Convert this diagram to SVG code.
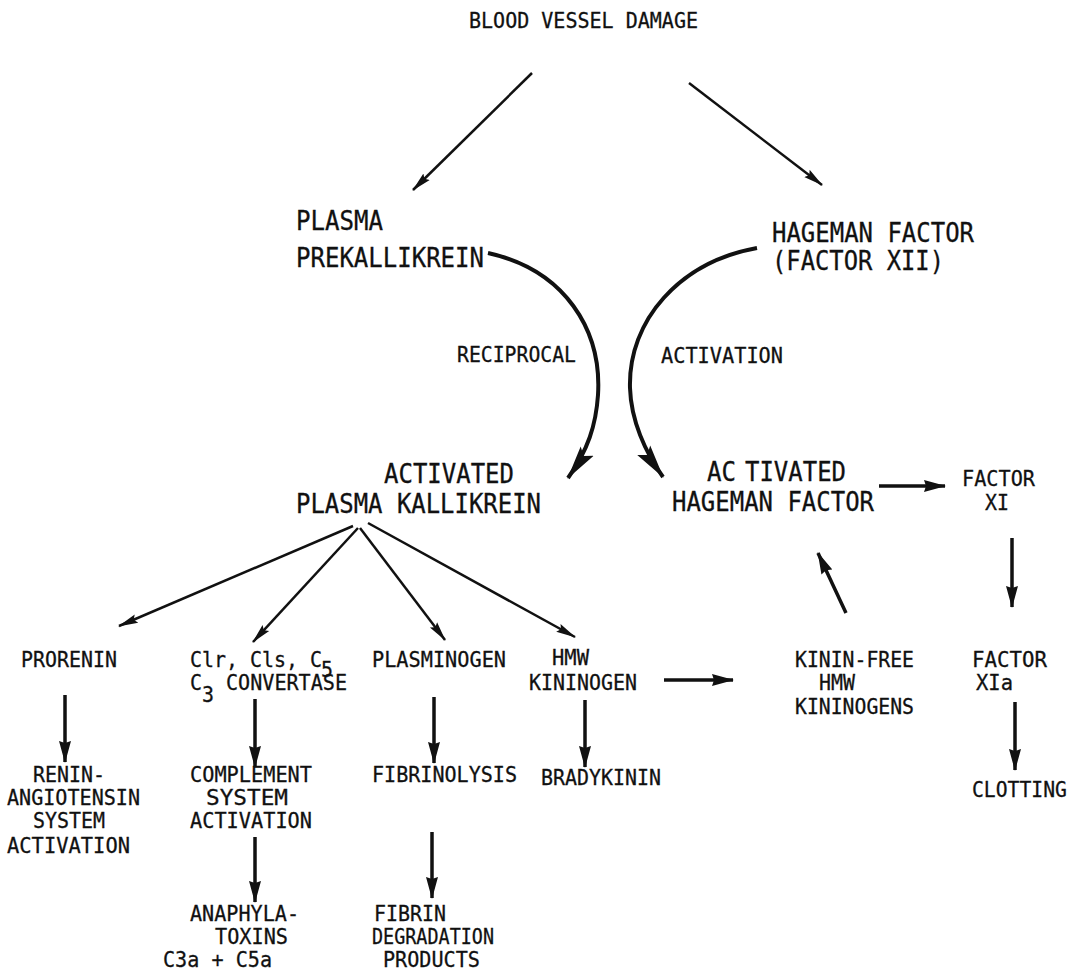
<svg xmlns="http://www.w3.org/2000/svg" width="1074" height="970" viewBox="0 0 1074 970">
<style>
text{font-family:"DejaVu Sans Mono","Liberation Mono",monospace;fill:#111;stroke:#111;stroke-width:0.3}
.s{font-size:22px}
.l{font-size:26px}
.thin{stroke:#111;stroke-width:2.5;fill:none;marker-end:url(#ht)}
.bold{stroke:#111;stroke-width:3.5;fill:none;marker-end:url(#hb)}
.curve{stroke:#111;stroke-width:4;fill:none;marker-end:url(#hc)}
</style>
<defs>
<marker id="ht" markerUnits="userSpaceOnUse" markerWidth="20" markerHeight="12" viewBox="0 0 20 12" refX="19" refY="6" orient="auto"><path d="M0,1.5 L20,6 L0,10.5 L3,6 z" fill="#111"/></marker>
<marker id="hb" markerUnits="userSpaceOnUse" markerWidth="22" markerHeight="14" viewBox="0 0 22 14" refX="21" refY="7" orient="auto"><path d="M0,1 L22,7 L0,13 L2,7 z" fill="#111"/></marker>
<marker id="hc" markerUnits="userSpaceOnUse" markerWidth="34" markerHeight="18" viewBox="0 0 34 18" refX="33" refY="9" orient="auto"><path d="M0,1 L34,9 L0,17 L6,9 z" fill="#111"/></marker>
</defs>
<rect width="1074" height="970" fill="#fff"/>

<g id="connectors">
<line class="thin" x1="532" y1="73" x2="413" y2="190"/>
<line class="thin" x1="689" y1="83" x2="822" y2="185"/>
<path class="curve" d="M488,253 C565,270 602,330 598,395 C596,425 588,450 568,478"/>
<path class="curve" d="M757,248 C680,262 628,320 630,388 C631,420 645,452 663,477"/>
<line class="bold" x1="879" y1="486" x2="945" y2="486"/>
<line class="thin" x1="353" y1="526" x2="119" y2="626"/>
<line class="thin" x1="358" y1="528" x2="253" y2="642"/>
<line class="thin" x1="360" y1="528" x2="445" y2="640"/>
<line class="thin" x1="368" y1="523" x2="575" y2="637"/>
<line class="bold" x1="65" y1="695" x2="65" y2="762"/>
<line class="bold" x1="255" y1="699" x2="255" y2="767"/>
<line class="bold" x1="434" y1="697" x2="434" y2="763"/>
<line class="bold" x1="585" y1="700" x2="585" y2="767"/>
<line class="bold" x1="255" y1="837" x2="255" y2="902"/>
<line class="bold" x1="432" y1="832" x2="432" y2="898"/>
<line class="bold" x1="664" y1="680" x2="733" y2="680"/>
<line class="bold" x1="846" y1="613" x2="818" y2="553"/>
<line class="bold" x1="1012" y1="538" x2="1012" y2="607"/>
<line class="bold" x1="1015" y1="702" x2="1015" y2="770"/>
</g>

<g id="blood-vessel-damage"><text class="s" x="469" y="28" textLength="229" lengthAdjust="spacingAndGlyphs">BLOOD VESSEL DAMAGE</text></g>
<g id="plasma-prekallikrein"><text class="l" x="296" y="230" textLength="87" lengthAdjust="spacingAndGlyphs">PLASMA</text><text class="l" x="296" y="267" textLength="188" lengthAdjust="spacingAndGlyphs">PREKALLIKREIN</text></g>
<g id="hageman-factor"><text class="l" x="772" y="242" textLength="202" lengthAdjust="spacingAndGlyphs">HAGEMAN FACTOR</text><text class="l" x="772" y="270" textLength="172" lengthAdjust="spacingAndGlyphs">(FACTOR XII)</text></g>
<g id="label-reciprocal"><text class="s" x="457" y="362" textLength="119" lengthAdjust="spacingAndGlyphs">RECIPROCAL</text></g>
<g id="label-activation"><text class="s" x="661" y="363" textLength="122" lengthAdjust="spacingAndGlyphs">ACTIVATION</text></g>
<g id="activated-plasma-kallikrein"><text class="l" x="384" y="483" textLength="130" lengthAdjust="spacingAndGlyphs">ACTIVATED</text><text class="l" x="296" y="513" textLength="245" lengthAdjust="spacingAndGlyphs">PLASMA KALLIKREIN</text></g>
<g id="activated-hageman-factor"><text class="l" y="481"><tspan x="707" textLength="29" lengthAdjust="spacingAndGlyphs">AC</tspan><tspan x="745" textLength="101" lengthAdjust="spacingAndGlyphs">TIVATED</tspan></text><text class="l" x="672" y="511" textLength="202" lengthAdjust="spacingAndGlyphs">HAGEMAN FACTOR</text></g>
<g id="factor-xi"><text class="s" x="962" y="486" textLength="73" lengthAdjust="spacingAndGlyphs">FACTOR</text><text class="s" x="985" y="510" textLength="24" lengthAdjust="spacingAndGlyphs">XI</text></g>
<g id="prorenin"><text class="s" x="21" y="667" textLength="96" lengthAdjust="spacingAndGlyphs">PRORENIN</text></g>
<g id="c1r-c1s-c5-c3-convertase"><text class="s" x="190" y="667" textLength="132" lengthAdjust="spacingAndGlyphs">Clr, Cls, C</text><text class="s" x="321" y="677" textLength="12" lengthAdjust="spacingAndGlyphs">5</text><text class="s" x="190" y="690" textLength="12" lengthAdjust="spacingAndGlyphs">C</text><text class="s" x="202" y="702" textLength="12" lengthAdjust="spacingAndGlyphs">3</text><text class="s" x="226" y="690" textLength="121" lengthAdjust="spacingAndGlyphs">CONVERTASE</text></g>
<g id="plasminogen"><text class="s" x="372" y="667" textLength="134" lengthAdjust="spacingAndGlyphs">PLASMINOGEN</text></g>
<g id="hmw-kininogen"><text class="s" x="552" y="665" textLength="37" lengthAdjust="spacingAndGlyphs">HMW</text><text class="s" x="529" y="690" textLength="108" lengthAdjust="spacingAndGlyphs">KININOGEN</text></g>
<g id="kinin-free-hmw-kininogens"><text class="s" x="795" y="667" textLength="119" lengthAdjust="spacingAndGlyphs">KININ-FREE</text><text class="s" x="819" y="690" textLength="36" lengthAdjust="spacingAndGlyphs">HMW</text><text class="s" x="795" y="714" textLength="119" lengthAdjust="spacingAndGlyphs">KININOGENS</text></g>
<g id="factor-xia"><text class="s" x="972" y="667" textLength="75" lengthAdjust="spacingAndGlyphs">FACTOR</text><text class="s" x="976" y="690" textLength="37" lengthAdjust="spacingAndGlyphs">XIa</text></g>
<g id="renin-angiotensin"><text class="s" x="33" y="782" textLength="72" lengthAdjust="spacingAndGlyphs">RENIN-</text><text class="s" x="7" y="805" textLength="133" lengthAdjust="spacingAndGlyphs">ANGIOTENSIN</text><text class="s" x="33" y="828" textLength="72" lengthAdjust="spacingAndGlyphs">SYSTEM</text><text class="s" x="7" y="853" textLength="123" lengthAdjust="spacingAndGlyphs">ACTIVATION</text></g>
<g id="complement-activation"><text class="s" x="190" y="782" textLength="122" lengthAdjust="spacingAndGlyphs">COMPLEMENT</text><text class="s" x="206" y="805" textLength="82" lengthAdjust="spacingAndGlyphs">SYSTEM</text><text class="s" x="190" y="828" textLength="122" lengthAdjust="spacingAndGlyphs">ACTIVATION</text></g>
<g id="fibrinolysis"><text class="s" x="372" y="782" textLength="145" lengthAdjust="spacingAndGlyphs">FIBRINOLYSIS</text></g>
<g id="bradykinin"><text class="s" x="541" y="785" textLength="120" lengthAdjust="spacingAndGlyphs">BRADYKININ</text></g>
<g id="clotting"><text class="s" x="972" y="797" textLength="95" lengthAdjust="spacingAndGlyphs">CLOTTING</text></g>
<g id="anaphylatoxins"><text class="s" x="190" y="921" textLength="109" lengthAdjust="spacingAndGlyphs">ANAPHYLA-</text><text class="s" x="215" y="944" textLength="73" lengthAdjust="spacingAndGlyphs">TOXINS</text><text class="s" x="163" y="967" textLength="109" lengthAdjust="spacingAndGlyphs">C3a + C5a</text></g>
<g id="fibrin-degradation-products"><text class="s" x="374" y="921" textLength="72" lengthAdjust="spacingAndGlyphs">FIBRIN</text><text class="s" x="372" y="944" textLength="122" lengthAdjust="spacingAndGlyphs">DEGRADATION</text><text class="s" x="383" y="967" textLength="97" lengthAdjust="spacingAndGlyphs">PRODUCTS</text></g>
</svg>
